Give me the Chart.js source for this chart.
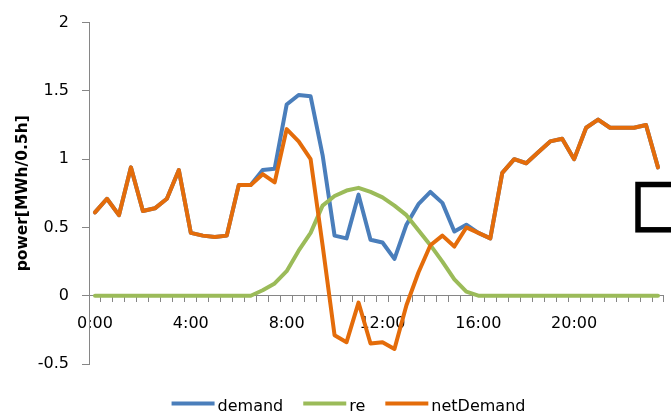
<!DOCTYPE html>
<html>
<head>
<meta charset="utf-8">
<script src="https://cdn.jsdelivr.net/npm/chart.js@4/dist/chart.umd.min.js"></script>
<style>
  html, body { margin: 0; padding: 0; background: #ffffff; }
  #wrap { width: 671px; height: 413px; position: relative; }
</style>
</head>
<body>
<div id="wrap"><canvas id="c" width="671" height="413"></canvas></div>
<script>
// Half-hour time slots over one day
const times = [
  '0:00','0:30','1:00','1:30','2:00','2:30','3:00','3:30',
  '4:00','4:30','5:00','5:30','6:00','6:30','7:00','7:30',
  '8:00','8:30','9:00','9:30','10:00','10:30','11:00','11:30',
  '12:00','12:30','13:00','13:30','14:00','14:30','15:00','15:30',
  '16:00','16:30','17:00','17:30','18:00','18:30','19:00','19:30',
  '20:00','20:30','21:00','21:30','22:00','22:30','23:00','23:30'
];

// Power per half hour [MWh/0.5h]
const demand = [
  0.61, 0.71, 0.59, 0.94, 0.62, 0.64, 0.71, 0.92,
  0.46, 0.44, 0.43, 0.44, 0.81, 0.81, 0.92, 0.93,
  1.40, 1.47, 1.46, 1.03, 0.44, 0.42, 0.74, 0.41,
  0.39, 0.27, 0.52, 0.67, 0.76, 0.68, 0.47, 0.52,
  0.46, 0.42, 0.90, 1.00, 0.97, 1.05, 1.13, 1.15,
  1.00, 1.23, 1.29, 1.23, 1.23, 1.23, 1.25, 0.94
];

const re = [
  0, 0, 0, 0, 0, 0, 0, 0,
  0, 0, 0, 0, 0, 0, 0.04, 0.09,
  0.18, 0.33, 0.46, 0.66, 0.73, 0.77, 0.79, 0.76,
  0.72, 0.66, 0.59, 0.48, 0.37, 0.25, 0.12, 0.03,
  0, 0, 0, 0, 0, 0, 0, 0,
  0, 0, 0, 0, 0, 0, 0, 0
];

const netDemand = [
  0.61, 0.71, 0.59, 0.94, 0.62, 0.64, 0.71, 0.92,
  0.46, 0.44, 0.43, 0.44, 0.81, 0.81, 0.89, 0.83,
  1.22, 1.13, 1.00, 0.37, -0.29, -0.34, -0.05, -0.35,
  -0.34, -0.39, -0.07, 0.17, 0.37, 0.44, 0.36, 0.50,
  0.46, 0.42, 0.90, 1.00, 0.97, 1.05, 1.13, 1.15,
  1.00, 1.23, 1.29, 1.23, 1.23, 1.23, 1.25, 0.94
];

// Axis settings
const yMin = -0.5;
const yMax = 2;
const yStep = 0.5;
const labelEvery = 8;   // label every 4 hours

const FONT = "'DejaVu Sans', 'Liberation Sans', sans-serif";
const AXIS_GREY = '#868686';

// White page background
const background = {
  id: 'background',
  beforeDraw(chart) {
    const ctx = chart.ctx;
    ctx.save();
    ctx.fillStyle = '#ffffff';
    ctx.fillRect(0, 0, chart.width, chart.height);
    ctx.restore();
  }
};

// Legend row under the plot: short line sample followed by the series name
const lineLegend = {
  id: 'lineLegend',
  afterDraw(chart) {
    const ctx = chart.ctx;
    const sample = 43, gap = 3, spacing = 20;
    const centerX = 348.5, lineY = 403.5, textY = 410.5;
    ctx.save();
    ctx.font = '16px ' + FONT;
    const items = chart.data.datasets.map(ds => ({
      text: ds.label, color: ds.borderColor, w: ctx.measureText(ds.label).width
    }));
    const total = items.reduce((s, it) => s + sample + gap + it.w, 0) + spacing * (items.length - 1);
    let x = centerX - total / 2;
    items.forEach(it => {
      ctx.strokeStyle = it.color;
      ctx.lineWidth = 4;
      ctx.lineCap = 'butt';
      ctx.beginPath();
      ctx.moveTo(x, lineY);
      ctx.lineTo(x + sample, lineY);
      ctx.stroke();
      ctx.fillStyle = '#000000';
      ctx.textBaseline = 'alphabetic';
      ctx.textAlign = 'left';
      ctx.fillText(it.text, x + sample + gap, textY);
      x += sample + gap + it.w + spacing;
    });
    ctx.restore();
  }
};

// Outlined box at the right edge
const frameBox = {
  id: 'frameBox',
  afterDraw(chart) {
    const ctx = chart.ctx;
    ctx.save();
    ctx.strokeStyle = '#000000';
    ctx.lineWidth = 5.5;
    ctx.strokeRect(638, 184.5, 60, 45.3);
    ctx.restore();
  }
};

new Chart(document.getElementById('c'), {
  type: 'line',
  data: {
    labels: times,
    datasets: [
      { label: 'demand', data: demand, borderColor: '#4A7EBB', order: 2 },
      { label: 're', data: re, borderColor: '#9BBB59', order: 1 },
      { label: 'netDemand', data: netDemand, borderColor: '#E46C0A', order: 0 }
    ]
  },
  options: {
    responsive: false,
    animation: false,
    devicePixelRatio: 1,
    layout: { padding: { top: 19, right: -2, bottom: 49, left: 0 } },
    elements: {
      line: { borderWidth: 4, tension: 0, borderJoinStyle: 'round', borderCapStyle: 'round', fill: false },
      point: { radius: 0, hoverRadius: 0 }
    },
    plugins: {
      legend: { display: false },
      tooltip: { enabled: false },
      title: { display: false }
    },
    scales: {
      x: {
        type: 'category',
        offset: true,
        position: { y: 0 },
        afterFit(s) { s.height = 0; },
        grid: {
          offset: true,
          drawOnChartArea: false,
          drawTicks: true,
          tickLength: 6,
          color: AXIS_GREY,
          lineWidth: 1
        },
        border: { color: AXIS_GREY, width: 1 },
        ticks: {
          autoSkip: false,
          maxRotation: 0,
          minRotation: 0,
          padding: 13,
          color: '#000000',
          font: { family: FONT, size: 16 },
          callback(value, index) {
            return index % labelEvery === 0 ? this.getLabelForValue(value) : '';
          }
        }
      },
      y: {
        min: yMin,
        max: yMax,
        afterFit(s) { s.width = 89; },
        grid: {
          drawOnChartArea: false,
          drawTicks: true,
          tickLength: 7,
          color: AXIS_GREY,
          lineWidth: 1
        },
        border: { color: AXIS_GREY, width: 1 },
        ticks: {
          stepSize: yStep,
          padding: 13,
          color: '#000000',
          font: { family: FONT, size: 16 },
          callback(value) { return String(Math.round(value * 100) / 100); }
        },
        title: {
          display: true,
          text: 'power[MWh/0.5h]',
          color: '#000000',
          font: { family: FONT, size: 15.5, weight: 'bold' },
          padding: { top: 14, bottom: 0 }
        }
      }
    }
  },
  plugins: [background, lineLegend, frameBox]
});
</script>
</body>
</html>
